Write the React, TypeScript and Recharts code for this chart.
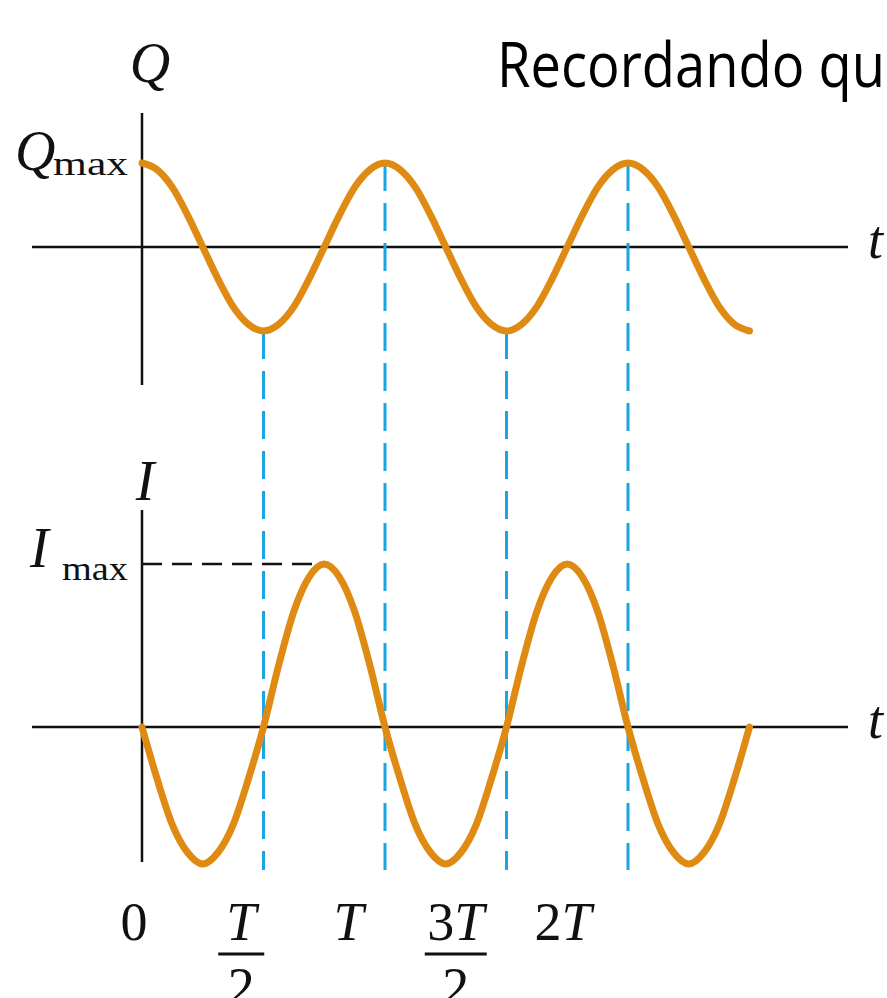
import React from "react";
import { ComposedChart, Line, XAxis, YAxis, ReferenceLine } from "recharts";

// Time samples, in units of the period T
const tValues = [
  0, 0.0625, 0.125, 0.1875, 0.25, 0.3125, 0.375, 0.4375, 0.5, 0.5625, 0.625, 0.6875, 0.75, 0.8125,
  0.875, 0.9375, 1, 1.0625, 1.125, 1.1875, 1.25, 1.3125, 1.375, 1.4375, 1.5, 1.5625, 1.625, 1.6875,
  1.75, 1.8125, 1.875, 1.9375, 2, 2.0625, 2.125, 2.1875, 2.25, 2.3125, 2.375, 2.4375, 2.5,
];

// Charge, in units of Q_max
const qValues = [
  1, 0.92, 0.71, 0.38, 0, -0.38, -0.71, -0.92, -1, -0.92, -0.71, -0.38, 0, 0.38, 0.71, 0.92,
  1, 0.92, 0.71, 0.38, 0, -0.38, -0.71, -0.92, -1, -0.92, -0.71, -0.38, 0, 0.38, 0.71, 0.92,
  1, 0.92, 0.71, 0.38, 0, -0.38, -0.71, -0.92, -1,
];

// Current, in units of I_max
const iValues = [
  0, -0.32, -0.6, -0.77, -0.84, -0.77, -0.6, -0.32, 0, 0.38, 0.71, 0.92, 1, 0.92, 0.71, 0.38,
  0, -0.32, -0.6, -0.77, -0.84, -0.77, -0.6, -0.32, 0, 0.38, 0.71, 0.92, 1, 0.92, 0.71, 0.38,
  0, -0.32, -0.6, -0.77, -0.84, -0.77, -0.6, -0.32, 0,
];

// Tick labels on the time axis
const tickValues = [0, 0.5, 1, 1.5, 2];
const tickNumerators = ["0", "T", "T", "3T", "2T"];
const tickDenominators = ["", "2", "", "2", ""];

// Times where the dashed guides link the two graphs
const guideTimes = [0.5, 1, 1.5, 2];
const iPeakTime = 0.75;

const data = tValues.map((t, k) => ({ t, q: qValues[k], i: iValues[k] }));

// Layout (pixels)
const W = 887;
const H = 998;
const PLOT_LEFT = 32;
const PLOT_RIGHT = 848;
const PLOT_TOP = 100;
const PLOT_BOTTOM = 870;
const T0_X = 142; // t = 0
const PX_PER_T = 243;
// tick labels sit on a slightly tighter spacing than the ticks themselves
const LABEL0_X = 134;
const LABEL_PX_PER_T = 214.5;
const Q_AXIS_Y = 247;
const Q_PX = 84;
const I_AXIS_Y = 727;
const I_PX = 163;

const xDomain = [(PLOT_LEFT - T0_X) / PX_PER_T, (PLOT_RIGHT - T0_X) / PX_PER_T];
const qDomain = [(Q_AXIS_Y - PLOT_BOTTOM) / Q_PX, (Q_AXIS_Y - PLOT_TOP) / Q_PX];
const iDomain = [(I_AXIS_Y - PLOT_BOTTOM) / I_PX, (I_AXIS_Y - PLOT_TOP) / I_PX];

const qAxisTop = (Q_AXIS_Y - 113) / Q_PX;
const qAxisBottom = (Q_AXIS_Y - 385) / Q_PX;
const iAxisTop = (I_AXIS_Y - 510) / I_PX;
const iAxisBottom = (I_AXIS_Y - 862) / I_PX;

const ORANGE = "#df8a12";
const BLUE = "#1ba6e2";
const INK = "#111";
const SERIF = "'Liberation Serif', 'Times New Roman', serif";

const qAt = (t: number) => data.find((d) => Math.abs(d.t - t) < 1e-9)?.q ?? 0;

const MathText = ({ s }: { s: string }) => (
  <>
    {s.split("").map((c, k) => (
      <tspan key={k} fontStyle={c === "T" ? "italic" : "normal"}>
        {c}
      </tspan>
    ))}
  </>
);

const TimeTick = (props: any) => {
  const { x, y, payload } = props;
  const v = payload.value as number;
  const idx = tickValues.indexOf(v);
  if (idx < 0) return null;
  const num = tickNumerators[idx];
  const den = tickDenominators[idx];
  const shift = LABEL0_X + LABEL_PX_PER_T * v - (T0_X + PX_PER_T * v);
  const cx = x + shift;
  const barHalf = num.length > 1 ? 31 : 23;
  return (
    <g fontFamily={SERIF} fontSize={54} fill={INK}>
      <text x={cx} y={y + 70} textAnchor="middle">
        <MathText s={num} />
      </text>
      {den && (
        <>
          <line x1={cx - barHalf} x2={cx + barHalf} y1={y + 84} y2={y + 84} stroke={INK} strokeWidth={3} />
          <text x={cx} y={y + 135} textAnchor="middle">
            {den}
          </text>
        </>
      )}
    </g>
  );
};

export default function App() {
  return (
    <div style={{ position: "absolute", left: 0, top: 0, width: W, height: H, background: "#fff" }}>
      <ComposedChart
        width={W}
        height={H}
        data={data}
        margin={{ top: PLOT_TOP, left: PLOT_LEFT, right: W - PLOT_RIGHT, bottom: 0 }}
      >
        <XAxis
          dataKey="t"
          type="number"
          domain={xDomain}
          allowDataOverflow
          ticks={tickValues}
          interval={0}
          axisLine={false}
          tickLine={false}
          tickSize={0}
          tickMargin={0}
          height={H - PLOT_BOTTOM}
          tick={<TimeTick />}
        />
        <YAxis yAxisId="q" type="number" domain={qDomain} allowDataOverflow hide width={0} />
        <YAxis yAxisId="i" type="number" domain={iDomain} allowDataOverflow hide width={0} />

        {/* axes of both graphs */}
        <ReferenceLine yAxisId="q" y={0} stroke={INK} strokeWidth={2.5} />
        <ReferenceLine yAxisId="i" y={0} stroke={INK} strokeWidth={2.5} />
        <ReferenceLine
          yAxisId="q"
          segment={[{ x: 0, y: qAxisTop }, { x: 0, y: qAxisBottom }]}
          stroke={INK}
          strokeWidth={2.5}
        />
        <ReferenceLine
          yAxisId="i"
          segment={[{ x: 0, y: iAxisTop }, { x: 0, y: iAxisBottom }]}
          stroke={INK}
          strokeWidth={2.5}
        />

        {/* guides from the charge extremes down to the time axis */}
        {guideTimes.map((t) => (
          <ReferenceLine
            key={t}
            yAxisId="q"
            segment={[{ x: t, y: qAt(t) }, { x: t, y: qDomain[0] }]}
            stroke={BLUE}
            strokeWidth={3}
            strokeDasharray="28 12"
          />
        ))}

        {/* I_max level */}
        <ReferenceLine
          yAxisId="i"
          segment={[{ x: 0, y: 1 }, { x: iPeakTime, y: 1 }]}
          stroke={INK}
          strokeWidth={2.5}
          strokeDasharray="20 10"
        />

        <Line
          yAxisId="q"
          dataKey="q"
          type="monotone"
          stroke={ORANGE}
          strokeWidth={7}
          strokeLinecap="round"
          dot={false}
          activeDot={false}
          isAnimationActive={false}
        />
        <Line
          yAxisId="i"
          dataKey="i"
          type="monotone"
          stroke={ORANGE}
          strokeWidth={7}
          strokeLinecap="round"
          dot={false}
          activeDot={false}
          isAnimationActive={false}
        />
      </ComposedChart>

      <svg
        width={W}
        height={H}
        style={{ position: "absolute", left: 0, top: 0, pointerEvents: "none" }}
      >
        <text
          x={497}
          y={87}
          fontFamily="'Open Sans', 'Noto Sans', sans-serif"
          fontSize={63}
          fill="#000"
          textLength={388}
          lengthAdjust="spacingAndGlyphs"
        >
          Recordando qu
        </text>

        <g fontFamily={SERIF} fill={INK}>
          <text x={150} y={82} fontSize={56} fontStyle="italic" textAnchor="middle">
            Q
          </text>
          <text x={15} y={170} fontSize={56} fontStyle="italic">
            Q
          </text>
          <text x={53} y={175} fontSize={34} textLength={75} lengthAdjust="spacingAndGlyphs">
            max
          </text>
          <text x={868} y={258} fontSize={54} fontStyle="italic">
            t
          </text>

          <text x={145} y={500} fontSize={56} fontStyle="italic" textAnchor="middle">
            I
          </text>
          <text x={30} y={567} fontSize={56} fontStyle="italic">
            I
          </text>
          <text x={62} y={580} fontSize={34} textLength={66} lengthAdjust="spacingAndGlyphs">
            max
          </text>
          <text x={868} y={738} fontSize={54} fontStyle="italic">
            t
          </text>
        </g>
      </svg>
    </div>
  );
}
